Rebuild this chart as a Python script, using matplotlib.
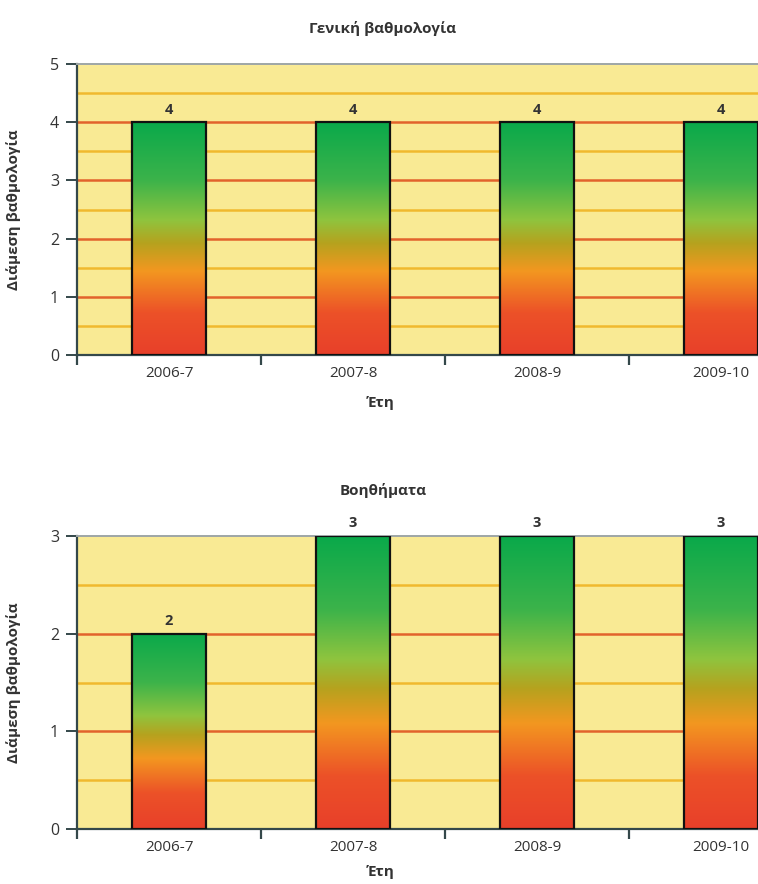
import matplotlib
matplotlib.use("Agg")
import matplotlib.pyplot as plt
import numpy as np
from matplotlib.colors import LinearSegmentedColormap

plt.rcParams["font.family"] = ["Open Sans", "DejaVu Sans"]

years = ["2006-7", "2007-8", "2008-9", "2009-10"]
general_scores = [4, 4, 4, 4]
aids_scores = [2, 3, 3, 3]

title_general = "Γενική βαθμολογία"
title_aids = "Βοηθήματα"
ylabel = "Διάμεση βαθμολογία"
xlabel = "Έτη"

BG = "#f9ea94"
GRID_MAJOR = "#e2632c"
GRID_MINOR = "#f0b92e"
TEXT = "#333333"
SPINE = "#34484a"

# red at the base, through orange and olive, to green at the top
bar_cmap = LinearSegmentedColormap.from_list(
    "score",
    [
        (0.00, "#e8402a"),
        (0.18, "#ec5128"),
        (0.36, "#f39720"),
        (0.48, "#b6a21e"),
        (0.58, "#8fc43e"),
        (0.75, "#3cb34a"),
        (1.00, "#0aa94b"),
    ],
)


def draw_panel(ax, values, ymax, title, title_y, xlabel_y):
    x = np.arange(len(values))
    ax.set_facecolor(BG)
    ax.set_xlim(-0.5, len(values) - 0.5)
    ax.set_ylim(0, ymax)

    # grid: integers in red-orange, halves in yellow-orange
    for v in np.arange(0.5, ymax, 0.5):
        color = GRID_MAJOR if float(v).is_integer() else GRID_MINOR
        ax.axhline(v, color=color, linewidth=1.8, zorder=1)

    bars = ax.bar(x, values, width=0.40, facecolor="none", edgecolor="#111111",
                  linewidth=1.6, zorder=4)
    grad = np.linspace(0, 1, 256).reshape(-1, 1)
    for b in bars:
        x0, w, h = b.get_x(), b.get_width(), b.get_height()
        im = ax.imshow(grad, extent=(x0, x0 + w, 0, h), origin="lower",
                       cmap=bar_cmap, aspect="auto", zorder=3,
                       interpolation="bicubic")
        im.set_clip_path(b)
    ax.set_xlim(-0.5, len(values) - 0.5)
    ax.set_ylim(0, ymax)

    ax.bar_label(bars, fmt="%d", padding=4, fontsize=10.5, fontweight="bold",
                 color=TEXT, annotation_clip=False)

    ax.set_yticks(np.arange(0, ymax + 1))
    ax.set_xticks(x)
    ax.set_xticklabels(years)
    ax.set_xticks(np.arange(-0.5, len(values)), minor=True)
    ax.tick_params(axis="x", which="major", length=0, pad=8, labelsize=11,
                   labelcolor=TEXT)
    ax.tick_params(axis="x", which="minor", length=7, width=1.6, color=SPINE,
                   direction="out")
    ax.tick_params(axis="y", length=8, width=1.4, color=SPINE, pad=5,
                   labelsize=11.5, labelcolor=TEXT)

    for side in ("left", "bottom"):
        ax.spines[side].set_color(SPINE)
        ax.spines[side].set_linewidth(1.6)
    ax.spines["top"].set_color("#9ea6a6")
    ax.spines["top"].set_linewidth(1.4)
    ax.spines["right"].set_visible(False)

    ax.set_ylabel(ylabel, fontsize=11, fontweight="bold", color=TEXT)
    ax.yaxis.set_label_coords(-0.076, 0.5)

    fig = ax.figure
    fig.text(383 / 758, 1 - title_y / 884, title, ha="center", va="center",
             fontsize=11, fontweight="bold", color=TEXT)
    fig.text(381 / 758, 1 - xlabel_y / 884, xlabel, ha="center", va="center",
             fontsize=11, fontweight="bold", color=TEXT)


fig = plt.figure(figsize=(7.58, 8.84), dpi=100)
ax_top = fig.add_axes([77 / 758, 1 - 355 / 884, 736 / 758, 291 / 884])
ax_bot = fig.add_axes([77 / 758, 1 - 829 / 884, 736 / 758, 293 / 884])

draw_panel(ax_top, general_scores, 5, title_general, 28, 403)
draw_panel(ax_bot, aids_scores, 3, title_aids, 490, 872)

fig.savefig("out.png", dpi=100)
